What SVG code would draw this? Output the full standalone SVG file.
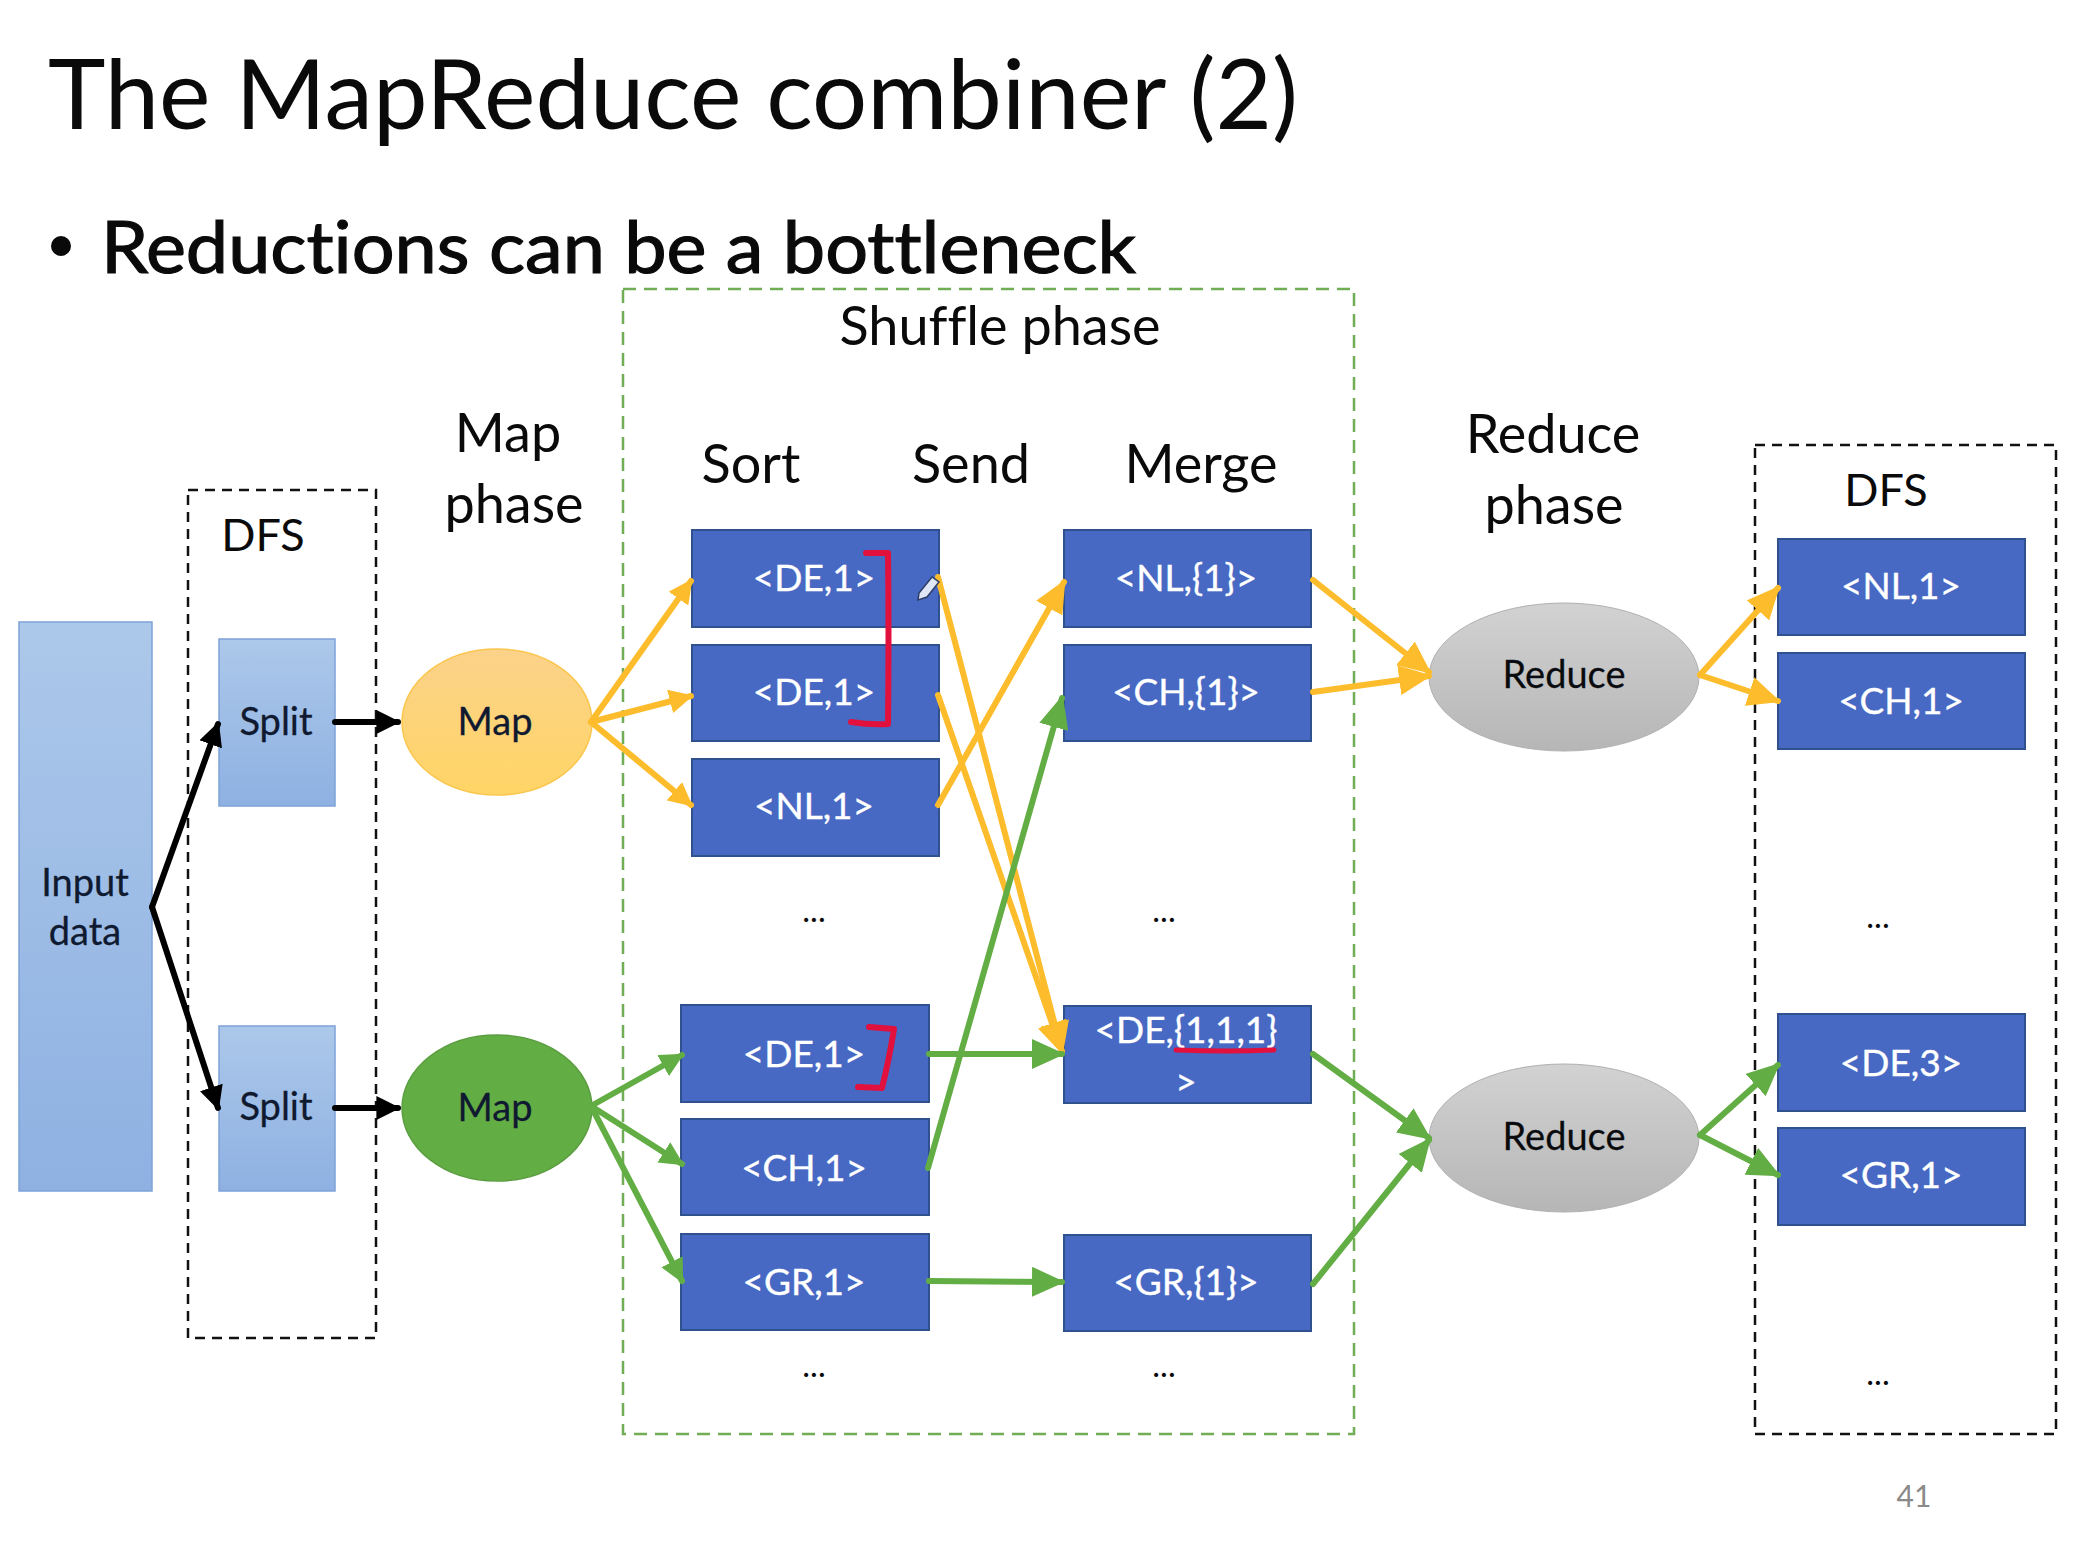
<svg xmlns="http://www.w3.org/2000/svg" width="2094" height="1560" viewBox="0 0 2094 1560">
<style>
text{font-family:Lato,"Open Sans","Liberation Sans",sans-serif;fill:#0a0a0a;text-anchor:middle;font-variant-ligatures:none}
.t{font-size:54px}
.n{font-size:37px;fill:#fff;stroke:#fff;stroke-width:.4}
.d{font-size:33px}
.k{font-size:38px;fill:#0f1a30;stroke:#0f1a30;stroke-width:.3}
.b{fill:#4769c4;stroke:#2f528f;stroke-width:2}
.lb{fill:url(#gb);stroke:#7da3d8;stroke-width:1.5}
.y,.g,.bk{fill:none;stroke-linecap:round}
.y{stroke:#fdbc2c}.g{stroke:#63ad45}.bk{stroke:#000}
.r{fill:none;stroke:#e2103c;stroke-linecap:round;stroke-linejoin:round}
</style>
<defs>
<linearGradient id="gb" x1="0" y1="0" x2="0" y2="1"><stop offset="0" stop-color="#acc8ea"/><stop offset="1" stop-color="#8eb1e2"/></linearGradient>
<linearGradient id="gy" x1="0" y1="0" x2="0" y2="1"><stop offset="0" stop-color="#fbd28a"/><stop offset="1" stop-color="#ffd566"/></linearGradient>
<linearGradient id="gg" x1="0" y1="0" x2="0" y2="1"><stop offset="0" stop-color="#d2d2d2"/><stop offset="1" stop-color="#b6b6b6"/></linearGradient>
<marker id="my" markerWidth="4" markerHeight="4" refX="3.6" refY="2" orient="auto"><path d="M0 0L4 2L0 4z" fill="#fdbc2c"/></marker>
<marker id="mg" markerWidth="4" markerHeight="4" refX="3.6" refY="2" orient="auto"><path d="M0 0L4 2L0 4z" fill="#63ad45"/></marker>
<marker id="mk" markerWidth="4" markerHeight="4" refX="3.6" refY="2" orient="auto"><path d="M0 0L4 2L0 4z" fill="#000"/></marker>
<marker id="My" markerWidth="5.5" markerHeight="5" refX="5" refY="2.5" orient="auto"><path d="M0 0L5.5 2.5L0 5z" fill="#fdbc2c"/></marker>
<marker id="Mg" markerWidth="5.5" markerHeight="5" refX="5" refY="2.5" orient="auto"><path d="M0 0L5.5 2.5L0 5z" fill="#63ad45"/></marker>
</defs>
<rect width="2094" height="1560" fill="#fff"/>
<g id="title">
<text x="48" y="129" style="font-size:96px;text-anchor:start" textLength="1250" lengthAdjust="spacingAndGlyphs">The MapReduce combiner (2)</text>
<circle cx="61" cy="246" r="10" fill="#0a0a0a"/>
<text x="101" y="273" style="font-size:72px;text-anchor:start;stroke:#0a0a0a;stroke-width:1.2" textLength="1035" lengthAdjust="spacingAndGlyphs">Reductions can be a bottleneck</text>
</g>
<g id="containers" fill="none">
<rect id="dfs-left" x="188" y="490" width="188" height="848" stroke="#111" stroke-width="2.5" stroke-dasharray="10 7"/>
<rect id="shuffle" x="623" y="289" width="731" height="1145" stroke="#70ad55" stroke-width="2.5" stroke-dasharray="13 8"/>
<rect id="dfs-right" x="1755" y="445" width="301" height="989" stroke="#111" stroke-width="2.5" stroke-dasharray="10 7"/>
</g>
<g id="labels">
<text class="t" x="1000" y="345">Shuffle phase</text>
<text class="t" x="508" y="452">Map</text>
<text class="t" x="514" y="523">phase</text>
<text class="t" x="751" y="483">Sort</text>
<text class="t" x="971" y="483">Send</text>
<text class="t" x="1201" y="483">Merge</text>
<text class="t" x="1553" y="453">Reduce</text>
<text class="t" x="1554" y="524">phase</text>
<text x="263" y="551" style="font-size:45px">DFS</text>
<text x="1886" y="506" style="font-size:45px">DFS</text>
<text class="d" x="814" y="922">...</text>
<text class="d" x="1164" y="922">...</text>
<text class="d" x="1878" y="928">...</text>
<text class="d" x="814" y="1377">...</text>
<text class="d" x="1164" y="1377">...</text>
<text class="d" x="1878" y="1385">...</text>
<text x="1914" y="1507" style="font-size:30px;fill:#8a8a8a">41</text>
</g>
<g id="input"><rect class="lb" x="19" y="622" width="133" height="569"/><text class="k" x="85" y="896">Input</text><text class="k" x="85" y="945">data</text></g>
<g id="split1"><rect class="lb" x="219" y="639" width="116" height="167"/><text class="k" x="276" y="735">Split</text></g>
<g id="split2"><rect class="lb" x="219" y="1026" width="116" height="165"/><text class="k" x="276" y="1120">Split</text></g>
<g id="map1"><ellipse cx="497" cy="722" rx="95" ry="73" fill="url(#gy)" stroke="#fbc64e" stroke-width="1.5"/><text class="k" x="495" y="735">Map</text></g>
<g id="map2"><ellipse cx="497" cy="1108" rx="95" ry="73" fill="#63ad45" stroke="#5b9e40" stroke-width="1.5"/><text class="k" x="495" y="1121">Map</text></g>
<g id="sort1"><rect class="b" x="692" y="530" width="247" height="97"/><text class="n" x="814" y="591">&lt;DE,1&gt;</text></g>
<g id="sort2"><rect class="b" x="692" y="645" width="247" height="96"/><text class="n" x="814" y="705">&lt;DE,1&gt;</text></g>
<g id="sort3"><rect class="b" x="692" y="759" width="247" height="97"/><text class="n" x="814" y="819">&lt;NL,1&gt;</text></g>
<g id="sort4"><rect class="b" x="681" y="1005" width="248" height="97"/><text class="n" x="804" y="1067">&lt;DE,1&gt;</text></g>
<g id="sort5"><rect class="b" x="681" y="1119" width="248" height="96"/><text class="n" x="804" y="1181">&lt;CH,1&gt;</text></g>
<g id="sort6"><rect class="b" x="681" y="1234" width="248" height="96"/><text class="n" x="804" y="1295">&lt;GR,1&gt;</text></g>
<g id="merge1"><rect class="b" x="1064" y="530" width="247" height="97"/><text class="n" x="1186" y="591">&lt;NL,{1}&gt;</text></g>
<g id="merge2"><rect class="b" x="1064" y="645" width="247" height="96"/><text class="n" x="1186" y="705">&lt;CH,{1}&gt;</text></g>
<g id="merge3"><rect class="b" x="1064" y="1006" width="247" height="97"/><text class="n" x="1186" y="1043">&lt;DE,{1,1,1}</text><text class="n" x="1186" y="1095">&gt;</text></g>
<g id="merge4"><rect class="b" x="1064" y="1235" width="247" height="96"/><text class="n" x="1186" y="1295">&lt;GR,{1}&gt;</text></g>
<g id="reduce1"><ellipse cx="1564" cy="677" rx="135" ry="74" fill="url(#gg)" stroke="#b0b0b0" stroke-width="1"/><text class="k" x="1564" y="688" style="fill:#0a0a0a">Reduce</text></g>
<g id="reduce2"><ellipse cx="1564" cy="1138" rx="135" ry="74" fill="url(#gg)" stroke="#b0b0b0" stroke-width="1"/><text class="k" x="1564" y="1150" style="fill:#0a0a0a">Reduce</text></g>
<g id="out1"><rect class="b" x="1778" y="539" width="247" height="96"/><text class="n" x="1901" y="599">&lt;NL,1&gt;</text></g>
<g id="out2"><rect class="b" x="1778" y="653" width="247" height="96"/><text class="n" x="1901" y="714">&lt;CH,1&gt;</text></g>
<g id="out3"><rect class="b" x="1778" y="1014" width="247" height="97"/><text class="n" x="1901" y="1076">&lt;DE,3&gt;</text></g>
<g id="out4"><rect class="b" x="1778" y="1128" width="247" height="97"/><text class="n" x="1901" y="1188">&lt;GR,1&gt;</text></g>
<g id="connectors">
<path class="bk" d="M152 907L218 724" marker-end="url(#mk)" stroke-width="6"/>
<path class="bk" d="M152 907L218 1108" marker-end="url(#mk)" stroke-width="6"/>
<path class="bk" d="M335 722L398 722" marker-end="url(#mk)" stroke-width="6"/>
<path class="bk" d="M335 1108L398 1108" marker-end="url(#mk)" stroke-width="6"/>
<g stroke-width="6">
<path class="y" d="M591 722L691 581" marker-end="url(#my)"/>
<path class="y" d="M591 722L691 696" marker-end="url(#my)"/>
<path class="y" d="M591 722L691 805" marker-end="url(#my)"/>
<path class="g" d="M591 1106L682 1055" marker-end="url(#mg)"/>
<path class="g" d="M591 1106L682 1164" marker-end="url(#mg)"/>
<path class="g" d="M591 1106L682 1281" marker-end="url(#mg)"/>
<path class="y" d="M1700 675L1778 588" marker-end="url(#My)"/>
<path class="y" d="M1700 675L1778 701" marker-end="url(#My)"/>
<path class="g" d="M1700 1135L1778 1065" marker-end="url(#My)" style="marker-end:url(#Mg)"/>
<path class="g" d="M1700 1135L1778 1175" style="marker-end:url(#Mg)"/>
<path class="y" d="M938 577L1062 1052" marker-end="url(#My)"/>
<path class="y" d="M938 695L1062 1052" marker-end="url(#My)"/>
<path class="y" d="M938 805L1064 582" marker-end="url(#My)"/>
<path class="g" d="M928 1168L1062 698" style="marker-end:url(#Mg)"/>
<path class="g" d="M929 1054L1062 1054" style="marker-end:url(#Mg)"/>
<path class="g" d="M929 1281L1062 1282" style="marker-end:url(#Mg)"/>
<path class="y" d="M1313 580L1429 672" marker-end="url(#My)"/>
<path class="y" d="M1313 692L1429 676" marker-end="url(#My)"/>
<path class="g" d="M1313 1054L1429 1138" style="marker-end:url(#Mg)"/>
<path class="g" d="M1313 1284L1429 1140" style="marker-end:url(#Mg)"/>
</g>
</g>
<g id="annotations">
<path class="r" stroke-width="6" d="M866 553L888 553Q889 630 888 724Q870 725 851 722"/>
<path class="r" stroke-width="6" d="M869 1027L894 1029Q889 1060 882 1088L858 1087"/>
<path class="r" stroke-width="5" d="M1176 1050Q1230 1052 1274 1050"/>
<path d="M919 593L932 577L939 582L927 597L918 600z" fill="#dfe6f5" stroke="#2d3e66" stroke-width="1.5"/>
</g>
</svg>
